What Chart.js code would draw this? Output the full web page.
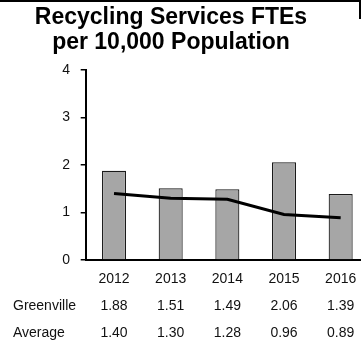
<!DOCTYPE html>
<html>
<head>
<meta charset="utf-8">
<script src="https://cdn.jsdelivr.net/npm/chart.js@4/dist/chart.umd.min.js"></script>
<style>
  html, body { margin: 0; padding: 0; background: #fff; }
  body { width: 361px; height: 343px; overflow: hidden; position: relative; }
  #wrap { position: absolute; left: -27px; top: 0; width: 396px; height: 343px; }
  .edge { position: absolute; background: #000; }
</style>
</head>
<body>
<div id="wrap"><canvas id="c" width="396" height="343"></canvas></div>
<div class="edge" style="left:0;top:0;width:361px;height:2px;"></div>
<div class="edge" style="left:359px;top:0;width:2px;height:19px;"></div>
<script>
// Recycling FTEs per 10,000 residents, Greenville vs. the comparison average
const years = ['2012', '2013', '2014', '2015', '2016'];
const greenville = [1.88, 1.51, 1.49, 2.06, 1.39];
const average = [1.40, 1.30, 1.28, 0.96, 0.89];
const rowNames = ['Greenville', 'Average'];
const titleLines = ['Recycling Services FTEs', 'per 10,000 Population'];

const FONT = '"Liberation Sans", Arial, sans-serif';
const INK = '#111';

// Values table printed under the year labels, one column per category
const dataTable = {
  id: 'dataTable',
  afterDraw(chart) {
    const ctx = chart.ctx;
    const x = chart.scales.x;
    const rows = [greenville, average];
    const rowY = [306, 333];
    ctx.save();
    ctx.font = '14px ' + FONT;
    ctx.fillStyle = INK;
    ctx.textBaseline = 'middle';
    rows.forEach((vals, r) => {
      ctx.textAlign = 'left';
      ctx.fillText(rowNames[r], 40, rowY[r]);
      ctx.textAlign = 'center';
      vals.forEach((v, i) => {
        ctx.fillText(v.toFixed(2), x.getPixelForValue(i), rowY[r]);
      });
    });
    ctx.restore();
  }
};

new Chart(document.getElementById('c'), {
  data: {
    labels: years,
    datasets: [
      {
        type: 'line',
        label: rowNames[1],
        data: average,
        borderColor: '#000',
        borderWidth: 3,
        pointRadius: 0,
        tension: 0,
        fill: false,
        order: 0
      },
      {
        type: 'bar',
        label: rowNames[0],
        data: greenville,
        backgroundColor: '#a6a6a6',
        borderColor: '#1a1a1a',
        borderWidth: 1.2,
        categoryPercentage: 1,
        barPercentage: 0.424,
        order: 1
      }
    ]
  },
  options: {
    responsive: false,
    animation: false,
    devicePixelRatio: 1,
    layout: { padding: { left: 0, right: 0, top: 0, bottom: 58 } },
    plugins: {
      legend: { display: false },
      tooltip: { enabled: false },
      title: {
        display: true,
        text: titleLines,
        color: '#000',
        font: { family: FONT, size: 23, weight: 'bold', lineHeight: 1.09 },
        padding: { top: 5, bottom: 15 }
      }
    },
    scales: {
      x: {
        grid: { display: false, drawTicks: false, tickLength: 0 },
        border: { display: true, color: '#000', width: 2 },
        ticks: { color: INK, padding: 11, font: { family: FONT, size: 14 } },
        afterFit(scale) { scale.height = 25; }
      },
      y: {
        min: 0,
        max: 4,
        grid: { drawOnChartArea: false, drawTicks: true, tickLength: 5, color: '#000', lineWidth: 1.5 },
        border: { display: true, color: '#000', width: 2 },
        ticks: { stepSize: 1, color: INK, padding: 10.7, font: { family: FONT, size: 14 } },
        afterFit(scale) { scale.width = 112.7; }
      }
    }
  },
  plugins: [dataTable]
});
</script>
</body>
</html>
